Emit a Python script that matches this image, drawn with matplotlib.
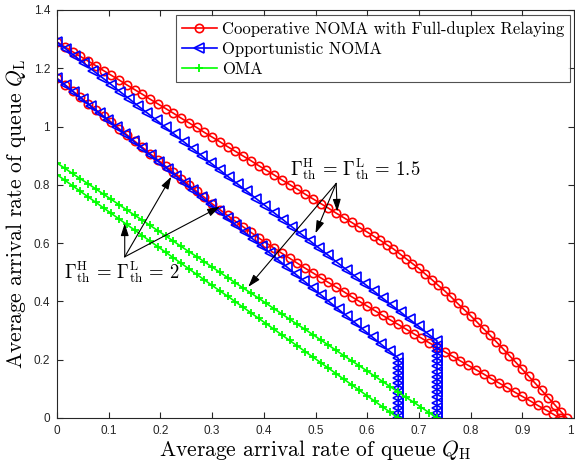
import matplotlib
matplotlib.use("Agg")
import matplotlib.pyplot as plt

plt.rcParams['font.family'] = ['Liberation Sans', 'DejaVu Sans']
plt.rcParams['mathtext.fontset'] = 'cm'

# ---------------- data ----------------
# Cooperative NOMA with full-duplex relaying, Gamma_th = 1.5
coop_15_x = [0, 0.015, 0.03, 0.045, 0.06, 0.075, 0.09, 0.105, 0.12, 0.135, 0.15, 0.165, 0.18, 0.195,
             0.21, 0.225, 0.24, 0.255, 0.27, 0.285, 0.3, 0.315, 0.33, 0.345, 0.36, 0.375, 0.39, 0.405,
             0.42, 0.435, 0.45, 0.465, 0.48, 0.495, 0.51, 0.525, 0.54, 0.555, 0.57, 0.585, 0.6,
             0.6125, 0.625, 0.6375, 0.65, 0.6625, 0.675, 0.6875, 0.7, 0.7125, 0.725, 0.7375, 0.75,
             0.7625, 0.775, 0.7875, 0.8, 0.8125, 0.825, 0.8375, 0.85, 0.8625, 0.875, 0.8875, 0.9,
             0.9125, 0.925, 0.9375, 0.95, 0.9625, 0.975, 0.986]
coop_15_y = [1.290, 1.274, 1.257, 1.241, 1.225, 1.209, 1.192, 1.176, 1.160, 1.143, 1.127, 1.111, 1.094,
             1.078, 1.062, 1.046, 1.029, 1.013, 0.997, 0.980, 0.964, 0.948, 0.931, 0.915, 0.899, 0.883,
             0.866, 0.850, 0.834, 0.817, 0.801, 0.785, 0.768, 0.752, 0.736, 0.720, 0.703, 0.687, 0.671,
             0.654, 0.638,
             0.624, 0.610, 0.595, 0.581, 0.564, 0.547, 0.530, 0.513, 0.494, 0.475, 0.455, 0.436, 0.415,
             0.393, 0.372, 0.351, 0.329, 0.306, 0.284, 0.261, 0.238, 0.214, 0.191, 0.167, 0.143, 0.119,
             0.095, 0.070, 0.046, 0.021, 0.0]

# Cooperative NOMA with full-duplex relaying, Gamma_th = 2
coop_2_x = [0, 0.015, 0.03, 0.045, 0.06, 0.075, 0.09, 0.105, 0.12, 0.135, 0.15, 0.165, 0.18, 0.195,
            0.21, 0.225, 0.24, 0.255, 0.27, 0.285, 0.3, 0.315, 0.33, 0.345, 0.36, 0.375, 0.39, 0.405,
            0.42, 0.435, 0.45, 0.465, 0.48, 0.495, 0.51, 0.525, 0.54, 0.555, 0.57, 0.585, 0.6, 0.615,
            0.63, 0.645, 0.66, 0.675, 0.69, 0.705, 0.72, 0.735, 0.75, 0.765, 0.78, 0.795, 0.81, 0.825,
            0.84, 0.855, 0.87, 0.885, 0.9, 0.915, 0.93, 0.945, 0.96, 0.972]
coop_2_y = [1.165, 1.144, 1.122, 1.101, 1.079, 1.058, 1.036, 1.015, 0.993, 0.972, 0.950, 0.929, 0.907,
            0.886, 0.864, 0.843, 0.821, 0.800, 0.778, 0.757, 0.735, 0.715, 0.695, 0.675, 0.656, 0.637,
            0.618, 0.600, 0.583, 0.565, 0.548, 0.531, 0.514, 0.498, 0.481, 0.465, 0.449, 0.433, 0.416,
            0.400, 0.384, 0.368, 0.352, 0.336, 0.321, 0.305, 0.289, 0.274, 0.258, 0.243, 0.227, 0.212,
            0.196, 0.181, 0.166, 0.151, 0.135, 0.120, 0.105, 0.089, 0.074, 0.059, 0.043, 0.028, 0.013,
            0.0]

# Opportunistic NOMA, Gamma_th = 1.5
opp_15_x = [0, 0.0175, 0.035, 0.0525, 0.07, 0.0875, 0.105, 0.1225, 0.14, 0.1575, 0.175, 0.1925, 0.21,
            0.2275, 0.245, 0.2625, 0.28, 0.2975, 0.315, 0.3325, 0.35, 0.3675, 0.385, 0.4025, 0.42,
            0.4375, 0.455, 0.4725, 0.49, 0.5075, 0.525, 0.5425, 0.56, 0.5775, 0.595, 0.6125, 0.63,
            0.6475, 0.665, 0.6825, 0.7, 0.7175, 0.735,
            0.735, 0.735, 0.735, 0.735, 0.735, 0.735, 0.735, 0.735, 0.735, 0.735, 0.735, 0.735, 0.735,
            0.735, 0.735]
opp_15_y = [1.290, 1.266, 1.241, 1.217, 1.192, 1.168, 1.144, 1.119, 1.095, 1.070, 1.046, 1.022, 0.997,
            0.973, 0.948, 0.924, 0.900, 0.875, 0.851, 0.826, 0.802, 0.778, 0.753, 0.729, 0.704, 0.680,
            0.655, 0.631, 0.607, 0.582, 0.558, 0.533, 0.509, 0.485, 0.460, 0.436, 0.411, 0.387, 0.363,
            0.338, 0.314, 0.289, 0.265,
            0.247, 0.230, 0.212, 0.194, 0.177, 0.159, 0.141, 0.124, 0.106, 0.088, 0.071, 0.053, 0.035,
            0.018, 0.0]

# Opportunistic NOMA, Gamma_th = 2
opp_2_x = [0, 0.0165, 0.033, 0.0495, 0.066, 0.0825, 0.099, 0.1155, 0.132, 0.1485, 0.165, 0.1815, 0.198,
           0.2145, 0.231, 0.2475, 0.264, 0.2805, 0.297, 0.3135, 0.33, 0.3465, 0.363, 0.3795, 0.396,
           0.4125, 0.429, 0.4455, 0.462, 0.4785, 0.495, 0.5115, 0.528, 0.5445, 0.561, 0.5775, 0.594,
           0.6105, 0.627, 0.6435, 0.66,
           0.66, 0.66, 0.66, 0.66, 0.66, 0.66, 0.66, 0.66, 0.66, 0.66, 0.66, 0.66]
opp_2_y = [1.165, 1.141, 1.117, 1.093, 1.069, 1.045, 1.021, 0.997, 0.973, 0.949, 0.925, 0.901, 0.877,
           0.853, 0.829, 0.805, 0.781, 0.757, 0.733, 0.709, 0.685, 0.661, 0.637, 0.613, 0.589, 0.565,
           0.541, 0.517, 0.493, 0.469, 0.445, 0.421, 0.397, 0.373, 0.349, 0.325, 0.301, 0.277, 0.253,
           0.229, 0.205,
           0.188, 0.171, 0.154, 0.137, 0.120, 0.103, 0.085, 0.068, 0.051, 0.034, 0.017, 0.0]

# OMA, Gamma_th = 1.5
oma_15_x = [0, 0.015, 0.03, 0.045, 0.06, 0.075, 0.09, 0.105, 0.12, 0.135, 0.15, 0.165, 0.18, 0.195,
            0.21, 0.225, 0.24, 0.255, 0.27, 0.285, 0.3, 0.315, 0.33, 0.345, 0.36, 0.375, 0.39, 0.405,
            0.42, 0.435, 0.45, 0.465, 0.48, 0.495, 0.51, 0.525, 0.54, 0.555, 0.57, 0.585, 0.6, 0.615,
            0.63, 0.645, 0.66, 0.675, 0.69, 0.705, 0.72, 0.735]
oma_15_y = [0.875, 0.857, 0.839, 0.821, 0.804, 0.786, 0.768, 0.750, 0.732, 0.714, 0.696, 0.679, 0.661,
            0.643, 0.625, 0.607, 0.589, 0.571, 0.554, 0.536, 0.518, 0.500, 0.482, 0.464, 0.446, 0.429,
            0.411, 0.393, 0.375, 0.357, 0.339, 0.321, 0.304, 0.286, 0.268, 0.250, 0.232, 0.214, 0.196,
            0.179, 0.161, 0.143, 0.125, 0.107, 0.089, 0.071, 0.054, 0.036, 0.018, 0.0]

# OMA, Gamma_th = 2
oma_2_x = [0, 0.015, 0.03, 0.045, 0.06, 0.075, 0.09, 0.105, 0.12, 0.135, 0.15, 0.165, 0.18, 0.195,
           0.21, 0.225, 0.24, 0.255, 0.27, 0.285, 0.3, 0.315, 0.33, 0.345, 0.36, 0.375, 0.39, 0.405,
           0.42, 0.435, 0.45, 0.465, 0.48, 0.495, 0.51, 0.525, 0.54, 0.555, 0.57, 0.585, 0.6, 0.615,
           0.63, 0.645, 0.66]
oma_2_y = [0.835, 0.816, 0.797, 0.778, 0.759, 0.740, 0.721, 0.702, 0.683, 0.664, 0.645, 0.626, 0.607,
           0.588, 0.569, 0.550, 0.531, 0.512, 0.493, 0.474, 0.455, 0.436, 0.418, 0.399, 0.380, 0.361,
           0.342, 0.323, 0.304, 0.285, 0.266, 0.247, 0.228, 0.209, 0.190, 0.171, 0.152, 0.133, 0.114,
           0.095, 0.076, 0.057, 0.038, 0.019, 0.0]

legend_labels = ['Cooperative NOMA with Full-duplex Relaying', 'Opportunistic NOMA', 'OMA']
x_ticks = [0, 0.1, 0.2, 0.3, 0.4, 0.5, 0.6, 0.7, 0.8, 0.9, 1]
x_tick_labels = ['0', '0.1', '0.2', '0.3', '0.4', '0.5', '0.6', '0.7', '0.8', '0.9', '1']
y_ticks = [0, 0.2, 0.4, 0.6, 0.8, 1, 1.2, 1.4]
y_tick_labels = ['0', '0.2', '0.4', '0.6', '0.8', '1', '1.2', '1.4']

# annotation targets (data coordinates)
ann15_text = r'$\Gamma_{\rm th}^{\rm H}\,=\,\Gamma_{\rm th}^{\rm L}\,=\,1.5$'
ann15_tail = (0.540, 0.805)
ann15_tips = [(0.542, 0.708), (0.500, 0.634), (0.370, 0.450)]
ann2_text = r'$\Gamma_{\rm th}^{\rm H}\,=\,\Gamma_{\rm th}^{\rm L}\,=\,2$'
ann2_tail = (0.131, 0.553)
ann2_tips = [(0.221, 0.828), (0.315, 0.725), (0.131, 0.668)]

# ---------------- plot ----------------
W, H = 575, 468
fig = plt.figure(figsize=(W / 100, H / 100), dpi=100)
ax = fig.add_axes([57 / W, 50 / H, 517 / W, 408 / H])

red_kw = dict(color=(1, 0, 0), marker='o', markersize=6, markerfacecolor='none',
              markeredgewidth=1.2, linewidth=1.2)
blue_kw = dict(color=(0, 0, 1), marker='<', markersize=6.5, markerfacecolor='none',
               markeredgewidth=1.2, linewidth=1.2)
green_kw = dict(color=(0, 1, 0), marker='+', markersize=5.5, markeredgewidth=1.3, linewidth=1.2)

l1, = ax.plot(coop_15_x, coop_15_y, **red_kw)
ax.plot(coop_2_x, coop_2_y, **red_kw)
l2, = ax.plot(opp_15_x, opp_15_y, **blue_kw)
ax.plot(opp_2_x, opp_2_y, **blue_kw)
l3, = ax.plot(oma_15_x, oma_15_y, **green_kw)
ax.plot(oma_2_x, oma_2_y, **green_kw)

ax.set_xlim(0, 1)
ax.set_ylim(0, 1.4)
ax.set_xticks(x_ticks)
ax.set_xticklabels(x_tick_labels)
ax.set_yticks(y_ticks)
ax.set_yticklabels(y_tick_labels)
ax.get_xticklabels()[-1].set_horizontalalignment('right')

spine_col = (0.15, 0.15, 0.15)
for s in ax.spines.values():
    s.set_color(spine_col)
    s.set_linewidth(0.8)
ax.tick_params(direction='in', length=4, width=0.8, colors=spine_col, labelsize=8.5,
               top=True, right=True, pad=5)

ax.set_xlabel(r'Average arrival rate of queue $Q_{\rm H}$', family='cmr10', fontsize=15.5,
              labelpad=1)
ax.set_ylabel(r'Average arrival rate of queue $Q_{\rm L}$', family='cmr10', fontsize=15.5,
              labelpad=4)

leg = ax.legend([l1, l2, l3], legend_labels, loc='upper right', bbox_to_anchor=(0.992, 0.988),
                borderaxespad=0, prop={'family': 'cmr10', 'size': 12}, frameon=True, fancybox=False,
                handlelength=2.1, handletextpad=0.3, labelspacing=0.28, borderpad=0.35)
leg.get_frame().set_edgecolor(spine_col)
leg.get_frame().set_linewidth(0.8)

arrow_kw = dict(arrowstyle='-|>,head_length=0.75,head_width=0.24', color='k', lw=0.8,
                shrinkA=0, shrinkB=0)
ax.text(0.450, 0.855, ann15_text, fontsize=13.5, ha='left', va='center')
for tip in ann15_tips:
    ax.annotate('', xy=tip, xytext=ann15_tail, arrowprops=arrow_kw)
ax.text(0.013, 0.502, ann2_text, fontsize=13.5, ha='left', va='center')
for tip in ann2_tips:
    ax.annotate('', xy=tip, xytext=ann2_tail, arrowprops=arrow_kw)

fig.savefig('out.png', dpi=100)
